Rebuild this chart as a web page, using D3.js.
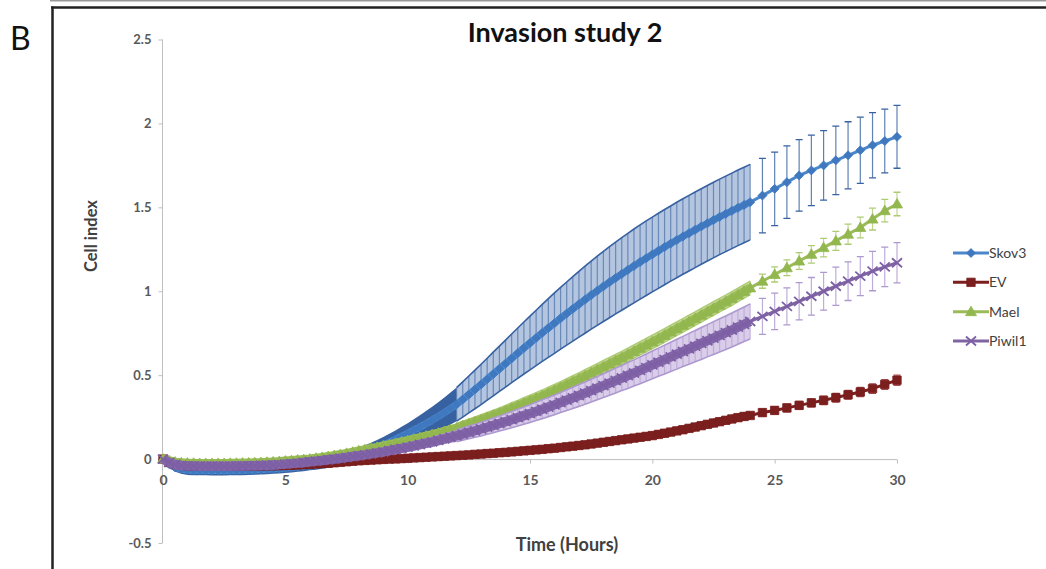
<!DOCTYPE html>
<html><head><meta charset="utf-8">
<script src="https://cdn.jsdelivr.net/npm/d3@7"></script>
<style>body{margin:0;background:#fff;} svg{display:block;font-family:Lato,"Open Sans",sans-serif;}</style>
</head><body><svg id="c" width="1046" height="569"></svg>
<script>
const hours = [0,0.25,0.5,0.75,1,1.25,1.5,1.75,2,2.25,2.5,2.75,3,3.25,3.5,3.75,4,4.25,4.5,4.75,5,5.25,5.5,5.75,6,6.25,6.5,6.75,7,7.25,7.5,7.75,8,8.25,8.5,8.75,9,9.25,9.5,9.75,10,10.25,10.5,10.75,11,11.25,11.5,11.75,12,12.25,12.5,12.75,13,13.25,13.5,13.75,14,14.25,14.5,14.75,15,15.25,15.5,15.75,16,16.25,16.5,16.75,17,17.25,17.5,17.75,18,18.25,18.5,18.75,19,19.25,19.5,19.75,20,20.25,20.5,20.75,21,21.25,21.5,21.75,22,22.25,22.5,22.75,23,23.25,23.5,23.75,24,24.5,25,25.5,26,26.5,27,27.5,28,28.5,29,29.5,30];

const skov3 = [0,-0.03,-0.05,-0.06,-0.065,
-0.066,-0.067,-0.067,-0.068,-0.068,-0.068,-0.067,-0.067,-0.066,-0.065,-0.064,-0.062,
-0.06,-0.058,-0.056,-0.053,-0.05,-0.046,-0.042,-0.037,
-0.032,-0.026,-0.019,-0.011,-0.003,0.006,0.016,0.027,
0.04,0.053,0.068,0.084,0.1,0.117,0.135,0.153,
0.172,0.191,0.211,0.232,0.254,0.277,0.301,0.326,
0.355,0.385,0.415,0.445,0.476,0.507,0.538,0.569,
0.6,0.631,0.662,0.692,0.722,0.752,0.781,0.81,
0.839,0.867,0.895,0.923,0.95,0.977,1.003,1.029,
1.054,1.079,1.103,1.127,1.151,1.174,1.197,1.219,
1.241,1.263,1.284,1.305,1.326,1.346,1.366,1.386,
1.405,1.424,1.443,1.461,1.479,1.497,1.514,1.531,
1.57,1.61,1.65,1.69,1.72,1.75,1.78,1.81,1.84,1.87,1.895,1.92];
const skov3Err = [0.01,0.02,0.025,0.028,0.03,
0.03,0.03,0.03,0.03,0.03,0.03,0.03,0.03,0.03,0.03,0.03,0.03,
0.03,0.03,0.03,0.03,0.03,0.03,0.03,0.03,
0.031,0.032,0.033,0.034,0.035,0.036,0.038,0.04,
0.042,0.044,0.046,0.048,0.051,0.054,0.057,0.06,
0.065,0.07,0.075,0.08,0.085,0.09,0.095,0.1,
0.105,0.11,0.115,0.12,0.125,0.13,0.135,0.14,
0.145,0.15,0.155,0.16,0.165,0.17,0.175,0.18,
0.184,0.188,0.192,0.196,0.2,0.203,0.206,0.209,
0.212,0.214,0.216,0.218,0.22,0.221,0.222,0.223,
0.224,0.224,0.224,0.225,0.225,0.225,0.225,0.225,
0.225,0.225,0.225,0.225,0.225,0.225,0.225,0.225,
0.222,0.219,0.216,0.213,0.21,0.207,0.204,0.2,0.197,0.194,0.19,0.187];

const ev = [0,-0.02,-0.032,-0.037,-0.04,
-0.041,-0.042,-0.042,-0.042,-0.042,-0.042,-0.042,-0.042,-0.042,-0.041,-0.041,-0.041,
-0.04,-0.04,-0.039,-0.038,-0.037,-0.035,-0.033,-0.031,
-0.029,-0.027,-0.025,-0.022,-0.019,-0.016,-0.013,-0.01,
-0.008,-0.006,-0.004,-0.002,0,0.001,0.003,0.005,
0.007,0.009,0.011,0.013,0.015,0.017,0.019,0.021,
0.023,0.025,0.028,0.03,0.033,0.035,0.038,0.04,
0.043,0.046,0.049,0.052,0.055,0.058,0.062,0.065,
0.069,0.073,0.077,0.081,0.085,0.09,0.095,0.1,
0.105,0.11,0.115,0.12,0.125,0.13,0.135,0.14,
0.147,0.154,0.161,0.168,0.175,0.183,0.191,0.199,
0.207,0.215,0.223,0.231,0.239,0.247,0.254,0.26,
0.277,0.29,0.305,0.32,0.335,0.35,0.366,0.383,0.4,0.42,0.445,0.47];
const evErr = [0.005,0.008,0.01,0.01,0.01,
0.01,0.01,0.01,0.01,0.01,0.01,0.01,0.01,0.01,0.01,0.01,0.01,
0.01,0.01,0.01,0.01,0.01,0.01,0.01,0.01,
0.01,0.01,0.01,0.01,0.01,0.01,0.01,0.01,
0.01,0.01,0.01,0.01,0.01,0.01,0.01,0.01,
0.01,0.01,0.01,0.01,0.01,0.01,0.01,0.01,
0.011,0.011,0.011,0.012,0.012,0.012,0.012,0.013,
0.013,0.013,0.014,0.014,0.014,0.015,0.015,0.015,
0.016,0.016,0.016,0.017,0.017,0.017,0.017,0.018,
0.018,0.018,0.018,0.019,0.019,0.019,0.019,0.019,
0.02,0.02,0.02,0.02,0.02,0.02,0.02,0.02,
0.02,0.02,0.02,0.02,0.02,0.02,0.02,0.02,
0.021,0.022,0.023,0.023,0.024,0.025,0.026,0.026,0.027,0.028,0.029,0.03];

const mael = [0,-0.01,-0.018,-0.022,-0.024,
-0.025,-0.026,-0.026,-0.026,-0.026,-0.026,-0.025,-0.025,-0.024,-0.023,-0.022,-0.021,
-0.019,-0.017,-0.015,-0.012,-0.009,-0.006,-0.003,0,
0.005,0.01,0.015,0.021,0.027,0.034,0.041,0.049,
0.056,0.063,0.07,0.078,0.086,0.094,0.102,0.11,
0.119,0.128,0.137,0.146,0.155,0.165,0.175,0.185,
0.198,0.21,0.222,0.235,0.248,0.261,0.274,0.288,
0.303,0.317,0.332,0.347,0.362,0.377,0.393,0.409,
0.426,0.443,0.46,0.477,0.495,0.513,0.531,0.549,
0.567,0.585,0.603,0.622,0.641,0.66,0.679,0.698,
0.717,0.737,0.757,0.777,0.797,0.817,0.837,0.857,
0.877,0.897,0.917,0.937,0.957,0.978,0.999,1.02,
1.06,1.1,1.14,1.18,1.22,1.26,1.3,1.34,1.38,1.43,1.48,1.52];
const maelErr = [0.005,0.01,0.012,0.014,0.015,
0.015,0.015,0.015,0.015,0.015,0.015,0.015,0.015,0.015,0.015,0.015,0.015,
0.015,0.015,0.015,0.015,0.015,0.015,0.015,0.015,
0.016,0.016,0.017,0.017,0.018,0.018,0.019,0.019,
0.02,0.02,0.021,0.021,0.022,0.022,0.023,0.023,
0.024,0.024,0.025,0.025,0.026,0.026,0.027,0.027,
0.028,0.028,0.029,0.029,0.03,0.03,0.031,0.031,
0.032,0.032,0.033,0.033,0.034,0.034,0.035,0.035,
0.035,0.036,0.036,0.036,0.037,0.037,0.037,0.038,
0.038,0.038,0.038,0.039,0.039,0.039,0.039,0.04,
0.04,0.04,0.04,0.04,0.04,0.04,0.04,0.04,
0.04,0.04,0.04,0.04,0.04,0.04,0.04,0.04,
0.042,0.045,0.047,0.05,0.052,0.055,0.057,0.06,0.062,0.065,0.067,0.07];

const piwil1 = [0,-0.02,-0.032,-0.038,-0.04,
-0.041,-0.042,-0.042,-0.042,-0.042,-0.042,-0.042,-0.041,-0.041,-0.04,-0.039,-0.038,
-0.037,-0.035,-0.033,-0.03,-0.027,-0.024,-0.02,-0.016,
-0.012,-0.008,-0.004,0,0.005,0.01,0.015,0.02,
0.025,0.031,0.037,0.043,0.05,0.057,0.064,0.071,
0.079,0.087,0.095,0.103,0.112,0.121,0.13,0.139,
0.149,0.159,0.169,0.179,0.19,0.201,0.212,0.223,
0.235,0.247,0.259,0.271,0.284,0.297,0.31,0.323,
0.337,0.351,0.365,0.379,0.393,0.408,0.423,0.438,
0.453,0.468,0.483,0.498,0.513,0.529,0.545,0.561,
0.577,0.593,0.609,0.625,0.641,0.657,0.673,0.689,
0.705,0.721,0.737,0.753,0.769,0.786,0.803,0.82,
0.85,0.88,0.91,0.94,0.97,1,1.03,1.06,1.09,1.12,1.145,1.17];
const piwil1Err = [0.005,0.01,0.015,0.018,0.02,
0.02,0.02,0.02,0.02,0.02,0.02,0.02,0.02,0.02,0.02,0.02,0.02,
0.02,0.02,0.02,0.02,0.02,0.02,0.02,0.02,
0.02,0.021,0.021,0.022,0.022,0.023,0.023,0.024,
0.025,0.025,0.026,0.027,0.027,0.028,0.029,0.029,
0.03,0.031,0.031,0.032,0.033,0.033,0.034,0.035,
0.036,0.038,0.039,0.041,0.042,0.044,0.045,0.047,
0.048,0.05,0.051,0.053,0.054,0.056,0.057,0.059,
0.06,0.062,0.063,0.065,0.066,0.068,0.069,0.071,
0.072,0.074,0.075,0.077,0.078,0.08,0.081,0.083,
0.084,0.086,0.087,0.089,0.09,0.092,0.093,0.095,
0.096,0.098,0.099,0.1,0.101,0.102,0.103,0.105,
0.107,0.109,0.11,0.111,0.112,0.113,0.114,0.115,0.116,0.117,0.118,0.12];

const seriesNames = ["Skov3","EV","Mael","Piwil1"];
const xTicks = [0,5,10,15,20,25,30];
const yTicks = [-0.5,0,0.5,1,1.5,2,2.5];
const yTickLabels = ["-0.5","0","0.5","1","1.5","2","2.5"];
const chartTitle = "Invasion study 2";
const panelLabel = "B";
const xTitle = "Time (Hours)";
const yTitle = "Cell index";

// ---- styles ----
const styles = {
  Skov3: {line:"#4a86c8", dense:"#4f8fd8", marker:"#3f78bf", errDark:"#3761a0", errLight:"#b4c5df", bandW:7, shape:"diamond"},
  EV:    {line:"#7b1e1e", dense:"#7b1e1e", marker:"#7b1e1e", errDark:"#a85050", errLight:"#dfb8b8", bandW:8, shape:"square"},
  Mael:  {line:"#9bbb59", dense:"#9bbb59", marker:"#93b74f", errDark:"#aecb74", errLight:"#d5e4b8", bandW:9, shape:"triangle"},
  Piwil1:{line:"#8064a2", dense:"#8466a8", marker:"#7d5fa6", errDark:"#ad98cf", errLight:"#d9cdea", bandW:9.5, shape:"x"}
};
const shapes = {
  diamond: "M0,-4.5L4.5,0L0,4.5L-4.5,0Z",
  square: "M-4.2,-4.2h8.4v8.4h-8.4Z",
  triangle: "M0,-5.5L5.5,4L-5.5,4Z",
  x: "M-5,-4.5L5,4.5M-5,4.5L5,-4.5"
};
const DENSE_SOLID_END = 12, DENSE_END = 24;

const series = [
  {name:"Skov3", vals:skov3, err:skov3Err},
  {name:"EV", vals:ev, err:evErr},
  {name:"Mael", vals:mael, err:maelErr},
  {name:"Piwil1", vals:piwil1, err:piwil1Err}
];

const svg = d3.select("#c");
const x = d3.scaleLinear().domain([0,30]).range([163,897]);
const y = d3.scaleLinear().domain([-0.5,2.5]).range([543,39.5]);

// frame
svg.append("line").attr("x1",50).attr("x2",1046).attr("y1",0.75).attr("y2",0.75).attr("stroke","#9a9a9a").attr("stroke-width",1.5);
svg.append("line").attr("x1",51).attr("x2",1046).attr("y1",7.5).attr("y2",7.5).attr("stroke","#222").attr("stroke-width",2.5);
svg.append("line").attr("x1",52.5).attr("x2",52.5).attr("y1",6.5).attr("y2",569).attr("stroke","#222").attr("stroke-width",2.5);

svg.append("text").attr("x",10).attr("y",50).attr("font-size",32).attr("fill","#111").text(panelLabel);
svg.append("text").attr("x",565).attr("y",42).attr("text-anchor","middle").attr("font-size",27).attr("font-weight","bold").attr("fill","#111").text(chartTitle);

// y axis
const yAxis = d3.axisLeft(y).tickValues(yTicks).tickSize(4).tickFormat((d,i)=>yTickLabels[i]);
const gy = svg.append("g").attr("transform","translate(162.5,0)").call(yAxis);
gy.select(".domain").attr("stroke","#bfbfbf").attr("d","M0,"+y(2.5)+"V"+y(-0.5));
gy.selectAll(".tick line").attr("stroke","#bfbfbf");
gy.selectAll(".tick text").attr("fill","#595959").attr("font-size",13).attr("font-weight","bold").attr("font-family","Lato, sans-serif").attr("x",-11);

// x axis
const xAxis = d3.axisBottom(x).tickValues(xTicks).tickSize(4).tickFormat(d3.format("d"));
const gx = svg.append("g").attr("transform","translate(0,"+(y(0)+0.5)+")").call(xAxis);
gx.select(".domain").attr("stroke","#bfbfbf").attr("d","M"+x(0)+",0H"+x(30));
gx.selectAll(".tick line").attr("stroke","#bfbfbf");
gx.selectAll(".tick text").attr("fill","#595959").attr("font-size",14).attr("font-family","Lato, sans-serif").attr("y",15).attr("font-weight","bold");

svg.append("text").attr("transform","translate(97,236) rotate(-90)").attr("text-anchor","middle").attr("font-size",16.5).attr("font-weight","bold").attr("fill","#404040").text(yTitle);
svg.append("text").attr("x",567).attr("y",551).attr("text-anchor","middle").attr("font-size",18).attr("font-weight","bold").attr("fill","#404040").text(xTitle);

// series
const line = d3.line().x(d=>x(d.t)).y(d=>y(d.v));
const area = d3.area().x(d=>x(d.t)).y0(d=>y(d.v-d.e)).y1(d=>y(d.v+d.e));
const upper = d3.line().x(d=>x(d.t)).y(d=>y(d.v+d.e));
const lower = d3.line().x(d=>x(d.t)).y(d=>y(d.v-d.e));

series.forEach(s => {
  const st = styles[s.name];
  const pts = hours.map((t,i)=>({t, v:s.vals[i], e:s.err[i]}));
  const solid = pts.filter(d=>d.t<=DENSE_SOLID_END);
  const hatch = pts.filter(d=>d.t>=DENSE_SOLID_END && d.t<=DENSE_END);
  const sparse = pts.filter(d=>d.t>=DENSE_END);
  const g = svg.append("g");
  // dense error bars: solid band
  g.append("path").datum(solid).attr("d",area).attr("fill",st.errDark);
  // hatched band
  g.append("path").datum(hatch).attr("d",area).attr("fill",st.errLight);
  g.append("g").selectAll("line").data(hatch).join("line")
    .attr("x1",d=>x(d.t)).attr("x2",d=>x(d.t)).attr("y1",d=>y(d.v+d.e)).attr("y2",d=>y(d.v-d.e))
    .attr("stroke",st.errDark).attr("stroke-width",1.2).attr("stroke-opacity",0.6);
  g.append("path").datum(hatch).attr("d",upper).attr("fill","none").attr("stroke",st.errDark).attr("stroke-width",1.6);
  g.append("path").datum(hatch).attr("d",lower).attr("fill","none").attr("stroke",st.errDark).attr("stroke-width",1.6);
  // sparse error bars
  const eg = g.append("g").attr("stroke", st.errDark).attr("fill","none");
  eg.selectAll("line").data(sparse.slice(1)).join("line")
    .attr("x1",d=>x(d.t)).attr("x2",d=>x(d.t)).attr("y1",d=>y(d.v+d.e)).attr("y2",d=>y(d.v-d.e))
    .attr("stroke-width",1.2).attr("stroke-opacity",0.8);
  eg.selectAll("path").data(sparse.slice(1)).join("path")
    .attr("d",d=>`M${x(d.t)-3.5},${y(d.v+d.e)}h7M${x(d.t)-3.5},${y(d.v-d.e)}h7`)
    .attr("stroke-width",1.3);
  // dense marker band (overlapping markers)
  g.append("path").datum(pts.filter(d=>d.t<=DENSE_END)).attr("d",line).attr("fill","none")
    .attr("stroke",st.dense).attr("stroke-width",st.bandW).attr("stroke-linejoin","round");
  // line
  g.append("path").datum(pts).attr("d",line).attr("fill","none").attr("stroke",st.line).attr("stroke-width",3);
  // markers
  g.selectAll("path.mk").data(pts).join("path").attr("class","mk")
    .attr("transform",d=>`translate(${x(d.t)},${y(d.v)})`)
    .attr("d",shapes[st.shape])
    .attr("fill", st.shape==="x" ? "none" : st.marker)
    .attr("stroke", st.marker).attr("stroke-width", st.shape==="x"?1.8:0.8);
});

// legend
const lg = svg.append("g");
const legendY = d3.scalePoint().domain(seriesNames).range([253,341]);
seriesNames.forEach(n => {
  const st = styles[n];
  const yy = legendY(n);
  lg.append("line").attr("x1",953).attr("x2",989).attr("y1",yy).attr("y2",yy).attr("stroke",st.line).attr("stroke-width",3);
  lg.append("path").attr("transform",`translate(971,${yy})`).attr("d",shapes[st.shape])
    .attr("fill", st.shape==="x" ? "none" : st.marker).attr("stroke",st.marker).attr("stroke-width", st.shape==="x"?1.8:0.8);
  lg.append("text").attr("x",989).attr("y",yy).attr("dy","0.35em").attr("font-size",14).attr("fill","#404040").text(n);
});
</script></body></html>
